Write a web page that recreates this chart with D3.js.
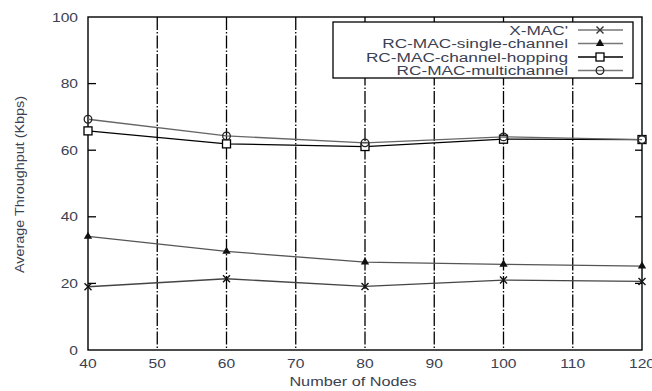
<!DOCTYPE html>
<html>
<head>
<meta charset="utf-8">
<script src="https://cdn.jsdelivr.net/npm/d3@7"></script>
<style>
  body { margin: 0; background: #fff; }
  text { font-family: "Liberation Sans", Arial, sans-serif; }
</style>
</head>
<body>
<div id="chart"></div>
<script>
// Data
const nodes = [40, 60, 80, 100, 120];
const xmac = [19.0, 21.4, 19.1, 21.0, 20.6];
const singleChannel = [34.1, 29.6, 26.4, 25.7, 25.2];
const channelHopping = [65.8, 61.9, 61.1, 63.3, 63.2];
const multichannel = [69.3, 64.3, 62.2, 64.0, 63.2];
const seriesNames = ["X-MAC'", "RC-MAC-single-channel", "RC-MAC-channel-hopping", "RC-MAC-multichannel"];
const xTicks = [40, 50, 60, 70, 80, 90, 100, 110, 120];
const yTicks = [0, 20, 40, 60, 80, 100];

const W = 652, H = 391;
const margin = { top: 17, right: 10, bottom: 41, left: 88 };
const width = W - margin.left - margin.right;
const height = H - margin.top - margin.bottom;
const textCol = "#3b4152";
const stretch = 1.3;

const svg = d3.select('#chart').append('svg')
  .attr('width', W).attr('height', H);
const g = svg.append('g').attr('transform', `translate(${margin.left},${margin.top})`);

const x = d3.scaleLinear().domain([40, 120]).range([0, width]);
const y = d3.scaleLinear().domain([0, 100]).range([height, 0]);

// vertical dashed grid
g.selectAll('.grid').data(xTicks.slice(1, -1)).enter().append('line')
  .attr('x1', d => x(d)).attr('x2', d => x(d))
  .attr('y1', 0).attr('y2', height)
  .attr('stroke', '#000').attr('stroke-width', 1.3)
  .attr('stroke-dasharray', '13,2,1.5,2');

// y ticks, inward on both sides
g.selectAll('.ytl').data(yTicks.slice(1, -1)).enter().append('line')
  .attr('x1', 0).attr('x2', 8).attr('y1', d => y(d)).attr('y2', d => y(d))
  .attr('stroke', '#000').attr('stroke-width', 1.3);
g.selectAll('.ytr').data(yTicks.slice(1, -1)).enter().append('line')
  .attr('x1', width - 7).attr('x2', width).attr('y1', d => y(d)).attr('y2', d => y(d))
  .attr('stroke', '#000').attr('stroke-width', 1.3);

// frame
g.append('rect').attr('width', width).attr('height', height)
  .attr('fill', 'none').attr('stroke', '#000').attr('stroke-width', 1.4);

// tick labels
g.selectAll('.yl').data(yTicks).enter().append('text')
  .attr('transform', d => `translate(-10,${y(d) + 4.5}) scale(${stretch},1)`)
  .attr('text-anchor', 'end').attr('font-size', 12).attr('fill', textCol)
  .text(d => d);
g.selectAll('.xl').data(xTicks).enter().append('text')
  .attr('transform', d => `translate(${x(d)},${height + 18}) scale(${stretch},1)`)
  .attr('text-anchor', 'middle').attr('font-size', 12).attr('fill', textCol)
  .text(d => d);

// axis titles
svg.append('text')
  .attr('transform', `translate(${margin.left + width / 2 - 12},${H - 5}) scale(${stretch},1)`)
  .attr('text-anchor', 'middle').attr('font-size', 12.5).attr('fill', textCol)
  .text('Number of Nodes');
svg.append('text')
  .attr('transform', `translate(24,${margin.top + height / 2 + 1}) rotate(-90) scale(1.2,1)`)
  .attr('text-anchor', 'middle').attr('font-size', 12).attr('fill', textCol)
  .text('Average Throughput (Kbps)');

const series = [
  { name: seriesNames[0], values: xmac, color: '#444', marker: 'x' },
  { name: seriesNames[1], values: singleChannel, color: '#555', marker: 'tri' },
  { name: seriesNames[2], values: channelHopping, color: '#000', marker: 'sq' },
  { name: seriesNames[3], values: multichannel, color: '#666', marker: 'circ' }
];

const line = d3.line().x((d, i) => x(nodes[i])).y(d => y(d));

function drawMarker(sel, type, color) {
  if (type === 'x') {
    sel.append('path').attr('d', 'M-3.5,-3.5L3.5,3.5M-3.5,3.5L3.5,-3.5')
      .attr('stroke', color).attr('stroke-width', 1.4).attr('fill', 'none');
  } else if (type === 'tri') {
    sel.append('path').attr('d', d3.symbol(d3.symbolTriangle, 30)())
      .attr('fill', '#111');
  } else if (type === 'sq') {
    sel.append('rect').attr('x', -4).attr('y', -4).attr('width', 8).attr('height', 8)
      .attr('fill', '#fff').attr('stroke', '#000').attr('stroke-width', 1.3);
  } else {
    sel.append('circle').attr('r', 3.8)
      .attr('fill', 'none').attr('stroke', '#222').attr('stroke-width', 1.3);
  }
}

series.forEach(s => {
  g.append('path').datum(s.values).attr('d', line)
    .attr('fill', 'none').attr('stroke', s.color).attr('stroke-width', 1.3);
  s.values.forEach((v, i) => {
    const m = g.append('g').attr('transform', `translate(${x(nodes[i])},${y(v)})`);
    drawMarker(m, s.marker, '#111');
  });
});

// legend
const lg = svg.append('g');
lg.append('rect').attr('x', 333).attr('y', 22).attr('width', 300).attr('height', 56)
  .attr('fill', '#fff').attr('stroke', '#000').attr('stroke-width', 1.3);
series.forEach((s, i) => {
  const ly = 30 + i * 13.5;
  lg.append('text')
    .attr('transform', `translate(568,${ly + 4.5}) scale(${stretch + 0.08},1)`)
    .attr('text-anchor', 'end').attr('font-size', 12.5).attr('fill', textCol)
    .text(s.name);
  lg.append('line').attr('x1', 578).attr('x2', 623).attr('y1', ly).attr('y2', ly)
    .attr('stroke', s.color === '#000' ? '#000' : '#777').attr('stroke-width', 1.3);
  drawMarker(lg.append('g').attr('transform', `translate(600,${ly})`), s.marker, '#333');
});
</script>
</body>
</html>
